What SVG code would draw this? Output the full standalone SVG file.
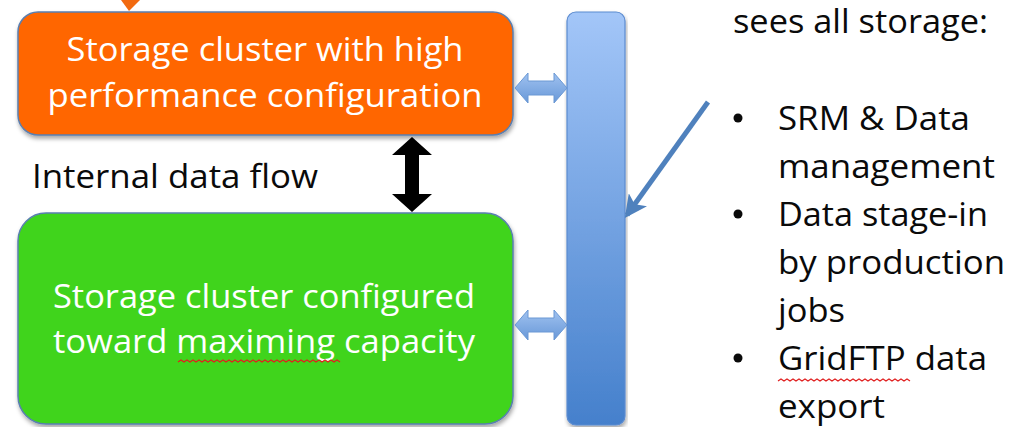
<svg xmlns="http://www.w3.org/2000/svg" width="1015" height="427" viewBox="0 0 1015 427">
  <style>
    .lbl { font-family: "Open Sans", "Liberation Sans", sans-serif; font-size: 33px; }
    .white { fill: #ffffff; }
    .dark { fill: #0a0a0a; }
    .box { stroke: #5a7fb0; stroke-width: 1.5; }
    .link { fill: url(#linkGrad); stroke: #6a98d4; stroke-width: 1; }
    .squiggle { fill: none; stroke: #e02020; stroke-width: 1.2; }
  </style>
  <defs>
    <linearGradient id="busGrad" x1="0" y1="0" x2="0" y2="1">
      <stop offset="0" stop-color="#a3c6f8"/>
      <stop offset="1" stop-color="#4580cc"/>
    </linearGradient>
    <linearGradient id="linkGrad" x1="0" y1="0" x2="0" y2="1">
      <stop offset="0" stop-color="#a0c2f0"/>
      <stop offset="1" stop-color="#6898d8"/>
    </linearGradient>
    <filter id="shadow" x="-5%" y="-5%" width="110%" height="115%">
      <feDropShadow dx="1" dy="3" stdDeviation="2" flood-color="#000" flood-opacity="0.35"/>
    </filter>
    <marker id="head" viewBox="0 0 12 12" refX="10" refY="6" markerWidth="4.5" markerHeight="4.5" orient="auto" markerUnits="strokeWidth">
      <path d="M0,0 L12,6 L0,12 L3,6 Z" fill="#4f81bd"/>
    </marker>
  </defs>

  <rect width="1015" height="427" fill="#ffffff"/>

  <!-- incoming pointer at the top edge -->
  <polygon points="121,0 140,0 129,11" fill="#f26a10"/>

  <g id="node-performance">
    <rect class="box" x="18" y="12" width="495" height="123" rx="20" fill="#ff6600" filter="url(#shadow)"/>
    <text class="lbl white" x="265" y="61" text-anchor="middle" textLength="397" lengthAdjust="spacingAndGlyphs">Storage cluster with high</text>
    <text class="lbl white" x="265" y="107" text-anchor="middle" textLength="435" lengthAdjust="spacingAndGlyphs">performance configuration</text>
  </g>

  <g id="node-capacity">
    <rect class="box" x="18" y="213" width="495" height="211" rx="28" fill="#3fd41e" filter="url(#shadow)"/>
    <text class="lbl white" x="264" y="308" text-anchor="middle" textLength="422" lengthAdjust="spacingAndGlyphs">Storage cluster configured</text>
    <text class="lbl white" x="264" y="353" text-anchor="middle" textLength="422" lengthAdjust="spacingAndGlyphs">toward maximing capacity</text>
    <path class="squiggle" d="M178,362 l3,-2 l3,2 l3,-2 l3,2 l3,-2 l3,2 l3,-2 l3,2 l3,-2 l3,2 l3,-2 l3,2 l3,-2 l3,2 l3,-2 l3,2 l3,-2 l3,2 l3,-2 l3,2 l3,-2 l3,2 l3,-2 l3,2 l3,-2 l3,2 l3,-2 l3,2 l3,-2 l3,2 l3,-2 l3,2 l3,-2 l3,2 l3,-2 l3,2 l3,-2 l3,2 l3,-2 l3,2 l3,-2 l3,2 l3,-2 l3,2 l3,-2 l3,2 l3,-2 l3,2 l3,-2 l3,2 l3,-2 l3,2 l3,-2 l3,2"/>
  </g>

  <g id="node-bus">
    <rect x="567" y="12" width="58" height="413" rx="9" fill="url(#busGrad)" stroke="#5b8bd0" stroke-width="1.2" filter="url(#shadow)"/>
  </g>

  <g id="label-internal">
    <text class="lbl dark" x="32" y="188" textLength="286" lengthAdjust="spacingAndGlyphs">Internal data flow</text>
  </g>

  <g id="node-access">
    <text class="lbl dark" x="733" y="33" textLength="255" lengthAdjust="spacingAndGlyphs">sees all storage:</text>
    <circle cx="738" cy="118" r="4.5" fill="#0a0a0a"/>
    <text class="lbl dark" x="778" y="130" textLength="192" lengthAdjust="spacingAndGlyphs">SRM &amp; Data</text>
    <text class="lbl dark" x="778" y="178" textLength="217" lengthAdjust="spacingAndGlyphs">management</text>
    <circle cx="738" cy="214" r="4.5" fill="#0a0a0a"/>
    <text class="lbl dark" x="778" y="226" textLength="210" lengthAdjust="spacingAndGlyphs">Data stage-in</text>
    <text class="lbl dark" x="778" y="274" textLength="227" lengthAdjust="spacingAndGlyphs">by production</text>
    <text class="lbl dark" x="778" y="322" textLength="67" lengthAdjust="spacingAndGlyphs">jobs</text>
    <circle cx="738" cy="358" r="4.5" fill="#0a0a0a"/>
    <text class="lbl dark" x="778" y="370" textLength="209" lengthAdjust="spacingAndGlyphs">GridFTP data</text>
    <text class="lbl dark" x="778" y="418" textLength="107" lengthAdjust="spacingAndGlyphs">export</text>
    <path class="squiggle" d="M778,381 l3,-2 l3,2 l3,-2 l3,2 l3,-2 l3,2 l3,-2 l3,2 l3,-2 l3,2 l3,-2 l3,2 l3,-2 l3,2 l3,-2 l3,2 l3,-2 l3,2 l3,-2 l3,2 l3,-2 l3,2 l3,-2 l3,2 l3,-2 l3,2 l3,-2 l3,2 l3,-2 l3,2 l3,-2 l3,2 l3,-2 l3,2 l3,-2 l3,2 l3,-2 l3,2 l3,-2 l3,2 l3,-2 l3,2 l3,-2 l3,2"/>
  </g>

  <g id="connectors">
    <!-- internal flow between the two clusters -->
    <polygon points="412,137 432,155 419,155 419,194 432,194 412,212 392,194 405,194 405,155 392,155" fill="#000000"/>
    <!-- cluster links to the bus -->
    <polygon class="link" points="515,88 528,73 528,81 554,81 554,73 567,88 554,103 554,95 528,95 528,103"/>
    <polygon class="link" points="515,325 528,310 528,318 554,318 554,310 567,325 554,340 554,332 528,332 528,340"/>
    <!-- access pointer into the bus -->
    <line x1="708" y1="102" x2="627" y2="215" stroke="#4f81bd" stroke-width="5" marker-end="url(#head)"/>
  </g>
</svg>
